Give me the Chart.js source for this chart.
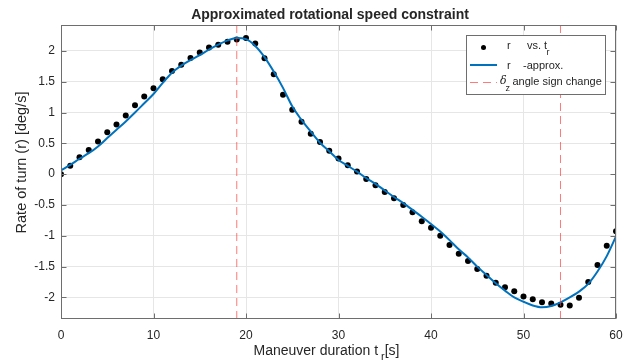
<!DOCTYPE html>
<html>
<head>
<meta charset="utf-8">
<script src="https://cdn.jsdelivr.net/npm/chart.js@4/dist/chart.umd.min.js"></script>
<style>
  html, body { margin: 0; padding: 0; background: #ffffff; }
  canvas { display: block; }
</style>
</head>
<body>
<canvas id="chart" width="625" height="363"></canvas>
<script>
// Sample times of the manoeuvre [s]
const timeS = [0, 1, 2, 3, 4, 5, 6, 7, 8, 9, 10, 11, 12, 13, 14, 15, 16, 17, 18, 19, 20,
  21, 22, 23, 24, 25, 26, 27, 28, 29, 30, 31, 32, 33, 34, 35, 36, 37, 38, 39, 40,
  41, 42, 43, 44, 45, 46, 47, 48, 49, 50, 51, 52, 53, 54, 55, 56, 57, 58, 59, 60];

// Measured rate of turn r [deg/s]
const measuredRate = [0.00, 0.135, 0.276, 0.39, 0.53, 0.68, 0.805, 0.95, 1.12, 1.26, 1.395,
  1.54, 1.675, 1.775, 1.885, 1.975, 2.055, 2.10, 2.15, 2.185, 2.21,
  2.12, 1.88, 1.62, 1.29, 1.045, 0.85, 0.655, 0.52, 0.378, 0.256,
  0.143, 0.042, -0.078, -0.18, -0.29, -0.39, -0.50, -0.62, -0.765, -0.87,
  -1.00, -1.15, -1.29, -1.41, -1.54, -1.65, -1.76, -1.835, -1.90, -1.985,
  -2.03, -2.08, -2.10, -2.12, -2.13, -2.005, -1.75, -1.475, -1.16, -0.925];

// Approximated rate of turn [deg/s]
const approxRate = [0.06, 0.15, 0.25, 0.34, 0.45, 0.585, 0.72, 0.855, 1.00, 1.15, 1.30,
  1.48, 1.645, 1.76, 1.85, 1.93, 2.02, 2.10, 2.17, 2.21, 2.19,
  2.08, 1.90, 1.665, 1.40, 1.10, 0.88, 0.69, 0.51, 0.37, 0.23,
  0.135, 0.04, -0.065, -0.157, -0.265, -0.37, -0.47, -0.58, -0.69, -0.81,
  -0.93, -1.07, -1.22, -1.35, -1.50, -1.635, -1.77, -1.89, -2.00, -2.07,
  -2.13, -2.16, -2.14, -2.08, -2.00, -1.905, -1.78, -1.58, -1.33, -1.01];

// Times where the rudder angle delta_z changes sign [s]
const signChangeTimes = [19, 54];

// Axis limits and tick values
const xLimits = [0, 60];
const yLimits = [-2.35, 2.42];
const xTicks = [0, 10, 20, 30, 40, 50, 60];
const yTicks = [-2, -1.5, -1, -0.5, 0, 0.5, 1, 1.5, 2];

const FONT = '"Liberation Sans", Arial, Helvetica, sans-serif';
const TEXT = '#262626';
const AXIS = '#6e6e6e';
const BLUE = '#0072BD';
const RED = 'rgba(255, 50, 50, 0.65)';
const RED_DASH = [8, 5];

const toPoints = (xs, ys) => xs.map((t, i) => ({ x: t, y: ys[i] }));

const datasets = [
  {
    label: 'r vs. t_r',
    data: toPoints(timeS, measuredRate),
    showLine: false,
    pointRadius: 3,
    pointBackgroundColor: '#000000',
    pointBorderWidth: 0,
    order: 3
  },
  {
    label: 'r-approx.',
    data: toPoints(timeS, approxRate),
    showLine: true,
    borderColor: BLUE,
    borderWidth: 2,
    pointRadius: 0,
    cubicInterpolationMode: 'monotone',
    order: 2
  }
];
signChangeTimes.forEach(t => {
  datasets.push({
    label: 'delta_z angle sign change',
    data: [{ x: t, y: yLimits[0] }, { x: t, y: yLimits[1] }],
    showLine: true,
    borderColor: RED,
    borderWidth: 1,
    borderDash: RED_DASH,
    pointRadius: 0,
    order: 1
  });
});

// Box, inward ticks, title, axis titles and legend (MATLAB look)
const frame = {
  id: 'frame',
  afterDatasetsDraw(chart) {
    const { ctx, chartArea: a, scales: { x, y } } = chart;
    ctx.save();

    // axes box
    const L = Math.round(a.left) + 0.5, R = Math.round(a.right) - 0.5;
    const T = Math.round(a.top) + 0.5, B = Math.round(a.bottom) - 0.5;
    ctx.strokeStyle = AXIS;
    ctx.lineWidth = 1;
    ctx.strokeRect(L, T, R - L, B - T);

    // inward tick marks on all four sides
    const tl = 5;
    ctx.beginPath();
    xTicks.forEach(v => {
      const px = Math.round(x.getPixelForValue(v)) + 0.5;
      ctx.moveTo(px, B); ctx.lineTo(px, B - tl);
      ctx.moveTo(px, T); ctx.lineTo(px, T + tl);
    });
    yTicks.forEach(v => {
      const py = Math.round(y.getPixelForValue(v)) + 0.5;
      ctx.moveTo(L, py); ctx.lineTo(L + tl, py);
      ctx.moveTo(R, py); ctx.lineTo(R - tl, py);
    });
    ctx.stroke();

    ctx.fillStyle = TEXT;
    ctx.textBaseline = 'middle';

    // title
    ctx.font = 'bold 14px ' + FONT;
    ctx.textAlign = 'center';
    ctx.fillText('Approximated rotational speed constraint', 330, 15);

    // y axis title
    ctx.save();
    ctx.translate(22, 162.5);
    ctx.rotate(-Math.PI / 2);
    ctx.font = '14.5px ' + FONT;
    ctx.fillText('Rate of turn (r) [deg/s]', 0, 0);
    ctx.restore();

    // x axis title with subscript
    ctx.textAlign = 'left';
    ctx.font = '14px ' + FONT;
    const main = 'Maneuver duration t';
    const wMain = ctx.measureText(main).width;
    ctx.font = '11px ' + FONT;
    const wSub = ctx.measureText('r').width;
    ctx.font = '14px ' + FONT;
    const wTail = ctx.measureText('[s]').width;
    const total = wMain + 3 + wSub + wTail;
    let sx = 326.5 - total / 2;
    ctx.fillText(main, sx, 351);
    sx += wMain + 3;
    ctx.font = '11px ' + FONT;
    ctx.fillText('r', sx, 357);
    sx += wSub;
    ctx.font = '14px ' + FONT;
    ctx.fillText('[s]', sx, 351);

    // legend
    const lx = 466.5, ly = 35.5, lw = 139, lh = 59;
    ctx.fillStyle = '#ffffff';
    ctx.fillRect(lx, ly, lw, lh);
    ctx.strokeStyle = AXIS;
    ctx.strokeRect(lx, ly, lw, lh);

    // entry 1: measured points
    ctx.fillStyle = '#000000';
    ctx.beginPath();
    ctx.arc(483.5, 47.5, 2.5, 0, Math.PI * 2);
    ctx.fill();
    ctx.fillStyle = TEXT;
    ctx.font = '11px ' + FONT;
    ctx.fillText('r', 507, 46);
    ctx.fillText('vs. t', 527, 46);
    ctx.font = '9px ' + FONT;
    ctx.fillText('r', 546.5, 53);

    // entry 2: approximation
    ctx.strokeStyle = BLUE;
    ctx.lineWidth = 2;
    ctx.beginPath();
    ctx.moveTo(470, 65); ctx.lineTo(497, 65);
    ctx.stroke();
    ctx.font = '11px ' + FONT;
    ctx.fillText('r', 507, 66);
    ctx.fillText('-approx.', 523, 66);

    // entry 3: sign change
    ctx.strokeStyle = RED;
    ctx.lineWidth = 1;
    ctx.setLineDash(RED_DASH);
    ctx.beginPath();
    ctx.moveTo(470, 82.5); ctx.lineTo(497, 82.5);
    ctx.stroke();
    ctx.setLineDash([]);
    ctx.font = 'italic 11px "DejaVu Serif", "Liberation Serif", serif';
    ctx.fillText('\u03B4', 500, 81);
    ctx.font = '9px ' + FONT;
    ctx.fillText('z', 505.5, 89);
    ctx.font = '11px ' + FONT;
    ctx.fillText('angle sign change', 512.5, 81.5);

    ctx.restore();
  }
};

new Chart(document.getElementById('chart'), {
  type: 'scatter',
  data: { datasets },
  options: {
    responsive: false,
    devicePixelRatio: 1,
    animation: false,
    events: [],
    layout: { padding: { top: 25, right: 9, bottom: 0, left: 0 } },
    plugins: { legend: { display: false }, tooltip: { enabled: false }, title: { display: false } },
    scales: {
      x: {
        type: 'linear',
        min: xLimits[0],
        max: xLimits[1],
        afterBuildTicks: s => { s.ticks = xTicks.map(v => ({ value: v })); },
        afterFit: s => { s.height = 44; s.paddingLeft = 0; s.paddingRight = 0; },
        grid: { color: '#e6e6e6', lineWidth: 1, drawTicks: false },
        border: { display: false },
        ticks: {
          color: TEXT,
          font: { family: FONT, size: 12 },
          padding: 9,
          maxRotation: 0,
          callback: v => String(v)
        }
      },
      y: {
        type: 'linear',
        min: yLimits[0],
        max: yLimits[1],
        afterBuildTicks: s => { s.ticks = yTicks.map(v => ({ value: v })); },
        afterFit: s => { s.width = 61; s.paddingTop = 0; s.paddingBottom = 0; },
        grid: { color: '#e6e6e6', lineWidth: 1, drawTicks: false },
        border: { display: false },
        ticks: {
          color: TEXT,
          font: { family: FONT, size: 12 },
          padding: 6,
          callback: v => String(v)
        }
      }
    }
  },
  plugins: [frame]
});
</script>
</body>
</html>
